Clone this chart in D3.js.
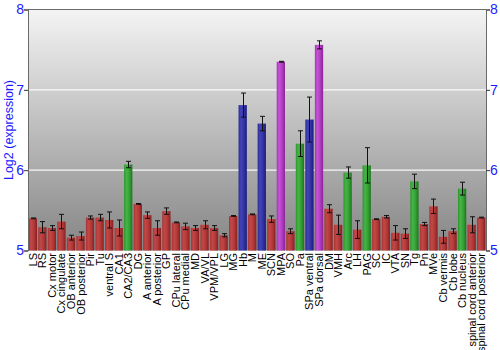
<!DOCTYPE html>
<html><head><meta charset="utf-8">
<script src="https://cdn.jsdelivr.net/npm/d3@7"></script>
<style>body{margin:0;background:#fff}svg{display:block}text{font-family:"Liberation Sans",Arial,sans-serif}</style>
</head><body><svg id="c" width="500" height="350"></svg>
<script>
const categories = ["LS","RS","Cx motor","Cx cingulate","OB anterior","OB posterior","Pir","Tu","ventral S","CA1","CA2/CA3","DG","A anterior","A posterior","GP","CPu lateral","CPu medial","MD","VA/VL","VPM/VPL","LG","MG","Hb","M","ME","SCN","MPA","SO","Pa","SPa ventral","SPa dorsal","DM","VMH","Arc","LH","PAG","SC","IC","VTA","SN","Tg","Pn","MVe","Cb vermis","Cb lobe","Cb nucleus","spinal cord anterior","spinal cord posterior"];
const values = [5.40,5.29,5.28,5.36,5.16,5.18,5.41,5.41,5.38,5.28,6.07,5.58,5.44,5.28,5.49,5.35,5.30,5.28,5.32,5.28,5.19,5.43,6.81,5.45,6.58,5.39,7.35,5.24,6.33,6.63,7.56,5.52,5.32,5.97,5.26,6.06,5.39,5.42,5.22,5.21,5.86,5.33,5.55,5.17,5.24,5.77,5.32,5.41];
const errors = [0.005,0.07,0.03,0.09,0.03,0.05,0.02,0.04,0.10,0.10,0.04,0.005,0.04,0.09,0.04,0.005,0.04,0.03,0.05,0.03,0.02,0.005,0.15,0.005,0.09,0.04,0.005,0.03,0.16,0.28,0.05,0.05,0.12,0.07,0.11,0.22,0.005,0.015,0.09,0.06,0.09,0.02,0.09,0.08,0.03,0.08,0.10,0.005];
const groups = ["r","r","r","r","r","r","r","r","r","r","g","r","r","r","r","r","r","r","r","r","r","r","b","r","b","r","m","r","g","b","m","r","r","g","r","g","r","r","r","r","g","r","r","r","r","g","r","r"];
const yTicks = [5,6,7,8];
const yLabel = "Log2 (expression)";

const svg = d3.select("#c");
const L = 28, R = 486, T = 9.5, B = 250.5;
const x = d3.scaleBand().domain(categories).range([L, R]).paddingInner(0.13).paddingOuter(0.07);
const y = d3.scaleLinear().domain([5, 8]).range([B, T]);

const defs = svg.append("defs");
const bg = defs.append("linearGradient").attr("id","bg").attr("x1",0).attr("y1",0).attr("x2",0).attr("y2",1);
bg.append("stop").attr("offset","0%").attr("stop-color","#f4f4f4");
bg.append("stop").attr("offset","100%").attr("stop-color","#858585");

const pal = {
  r: ["#a83434","#c24848","#b23838","#862020"],
  g: ["#2e962e","#46b446","#34a034","#1c751c"],
  b: ["#2a2a96","#4444b8","#3232a4","#1c1c78"],
  m: ["#a833b8","#c653d6","#b03cc0","#8a2496"]
};
Object.entries(pal).forEach(([k,c]) => {
  const g = defs.append("linearGradient").attr("id","bar"+k).attr("x1",0).attr("y1",0).attr("x2",1).attr("y2",0);
  g.append("stop").attr("offset","0%").attr("stop-color",c[0]);
  g.append("stop").attr("offset","30%").attr("stop-color",c[1]);
  g.append("stop").attr("offset","65%").attr("stop-color",c[2]);
  g.append("stop").attr("offset","100%").attr("stop-color",c[3]);
});

svg.append("rect").attr("x",L).attr("y",T).attr("width",R-L).attr("height",B-T).attr("fill","url(#bg)");

// gridlines
svg.append("g").selectAll("line").data([6,7]).join("line")
  .attr("x1",L).attr("x2",R).attr("y1",d=>y(d)).attr("y2",d=>y(d))
  .attr("stroke","#fff").attr("stroke-width",1.3).attr("stroke-opacity",0.9);

// bars
svg.append("g").selectAll("rect").data(categories).join("rect")
  .attr("x", d=>x(d)).attr("width", x.bandwidth())
  .attr("y", (d,i)=>y(values[i])).attr("height", (d,i)=>B - y(values[i]))
  .attr("fill", (d,i)=>"url(#bar"+groups[i]+")");

// error bars
const eg = svg.append("g").attr("stroke","#111").attr("stroke-width",1);
categories.forEach((c,i)=>{
  const cx = Math.round(x(c) + x.bandwidth()/2) + 0.5;
  const y1 = y(values[i]+errors[i]), y2 = y(values[i]-errors[i]);
  eg.append("line").attr("x1",cx).attr("x2",cx).attr("y1",y1).attr("y2",y2);
  eg.append("line").attr("x1",cx-2.5).attr("x2",cx+2.5).attr("y1",y1).attr("y2",y1);
  eg.append("line").attr("x1",cx-2.5).attr("x2",cx+2.5).attr("y1",y2).attr("y2",y2);
});

// frame
svg.append("line").attr("x1",L).attr("x2",R).attr("y1",T).attr("y2",T).attr("stroke","#6a6a6a").attr("stroke-width",1);

// axes
const la = svg.append("g").attr("transform",`translate(${L},0)`).call(d3.axisLeft(y).tickValues(yTicks).tickSize(4).tickFormat(d3.format("d")));
const ra = svg.append("g").attr("transform",`translate(${R},0)`).call(d3.axisRight(y).tickValues(yTicks).tickSize(4).tickFormat(d3.format("d")));
[la,ra].forEach(a=>{
  a.select(".domain").attr("stroke","#6a6a6a");
  a.selectAll(".tick line").attr("stroke","#333");
  a.selectAll(".tick text").attr("fill","#1a1aff").attr("font-size",14).attr("font-family","Liberation Sans, Arial, sans-serif");
});
la.selectAll(".tick text").attr("x",-4);
ra.selectAll(".tick text").attr("x",4);

// y label
svg.append("text").attr("transform","translate(13,130) rotate(-90)").attr("text-anchor","middle")
  .attr("fill","#1a1aff").attr("font-size",12.5).text(yLabel);

// category labels
svg.append("g").selectAll("text").data(categories).join("text")
  .attr("transform", d=>`translate(${x(d)+x.bandwidth()/2+4},253) rotate(-90)`)
  .attr("text-anchor","end").attr("font-size",11).attr("fill","#000").text(d=>d);
</script></body></html>
